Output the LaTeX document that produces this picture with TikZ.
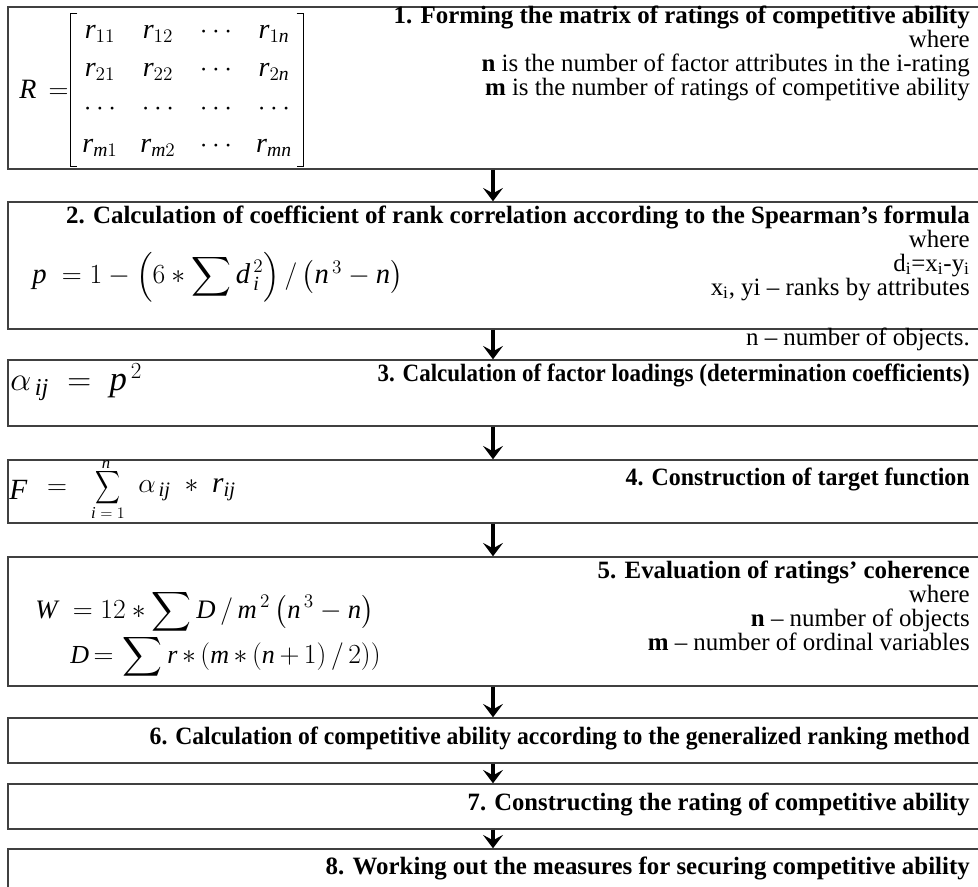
\documentclass[tikz,border=0pt]{standalone}
\usepackage{exscale}
\usepackage{fontspec}
\setmainfont{Liberation Serif}
\usepackage{graphicx}
\usetikzlibrary{arrows.meta,fit,matrix}
\newcommand\mi[1]{\mathit{#1}}
\newcommand\cond[2]{\resizebox{#1}{\height}{#2}}
\newcommand\st{\mathbin{*}}
\begin{document}
\begin{tikzpicture}[x=0.75pt,y=-0.75pt,
  box/.style={draw=black!75, line width=1.1pt, inner sep=0pt},
  txt/.style={anchor=mid east, inner sep=0pt, font=\fontsize{18.7}{20}\selectfont},
  ttl/.style={txt, font=\fontsize{18.7}{20}\selectfont\bfseries},
  frm/.style={anchor=west, inner sep=0pt, font=\fontsize{22}{26}\selectfont},
  lim/.style={inner sep=0pt, font=\fontsize{12.5}{14}\selectfont},
  flow/.style={line width=2.4pt, -{Stealth[length=10pt,width=15pt,inset=4pt]}},
  brk/.style={line width=0.8pt}
  ]
\useasboundingbox (0,0) rectangle (978,887);
\clip (0,0) rectangle (978,887);
\coordinate (ax) at (493,0);
% boxes
\node[box, fit={(8,7) (995,169)}] (b1) {};
\node[box, fit={(8,202) (995,329)}] (b2) {};
\node[box, fit={(8,360) (995,426)}] (b3) {};
\node[box, fit={(8,460) (995,523)}] (b4) {};
\node[box, fit={(8,557) (995,686)}] (b5) {};
\node[box, fit={(8,718) (995,763)}] (b6) {};
\node[box, fit={(8,784) (995,829)}] (b7) {};
\node[box, fit={(8,849) (995,900)}] (b8) {};
% arrows
\draw[flow] (b1.south -| ax) -- (b2.north -| ax);
\draw[flow] (b2.south -| ax) -- (b3.north -| ax);
\draw[flow] (b3.south -| ax) -- (b4.north -| ax);
\draw[flow] (b4.south -| ax) -- (b5.north -| ax);
\draw[flow] (b5.south -| ax) -- (b6.north -| ax);
\draw[flow] (b6.south -| ax) -- (b7.north -| ax);
\draw[flow] (b7.south -| ax) -- (b8.north -| ax);
% box 1
\node[ttl] (t1) at (970,20) {1. Forming the matrix of ratings of competitive ability};
\node[txt] (w1) at (970,44) {where};
\node[txt] (n1) at (970,68) {\textbf{n} is the number of factor attributes in the i-rating};
\node[txt] (m1) at (970,92) {\textbf{m} is the number of ratings of competitive ability};
\matrix (M) at (187,90) [matrix of math nodes, column sep=0pt, row sep=0pt, inner sep=0pt,
  nodes={minimum width=43.5pt, minimum height=27.75pt, inner sep=0pt, font=\fontsize{21}{24}\selectfont}] {
  \mi{r}_{11} & \mi{r}_{12} & \cdots & \mi{r}_{1\mi{n}} \\
  \mi{r}_{21} & \mi{r}_{22} & \cdots & \mi{r}_{2\mi{n}} \\
  \cdots & \cdots & \cdots & \cdots \\
  \mi{r}_{\mi{m}1} & \mi{r}_{\mi{m}2} & \cdots & \mi{r}_{\mi{mn}} \\
};
\draw[brk] ([xshift=5pt]M.north west) -- (M.north west) -- (M.south west) -- ([xshift=5pt]M.south west);
\draw[brk] ([xshift=-5pt]M.north east) -- (M.north east) -- (M.south east) -- ([xshift=-5pt]M.south east);
\node[font=\fontsize{21}{24}\selectfont, inner sep=0pt] (Req) at (44,89) {$\mi{R}\,=$};
% box 2
\node[ttl] (t2) at (970,220) {2. Calculation of coefficient of rank correlation according to the Spearman’s formula};
\node[txt] (w2) at (970,244) {where};
\node[txt] (d2) at (970,268) {d\textsubscript{i}=x\textsubscript{i}-y\textsubscript{i}};
\node[txt] (x2) at (970,292) {x\textsubscript{i}, yi – ranks by attributes};
\node[txt] (o2) at (970,342) {n – number of objects.};
\node[frm, font=\fontsize{21.5}{25}\selectfont] (f2) at (32,277) {$\mi{p}\;=1-\left(6\st\displaystyle\sum \mi{d}_{\,\mi{i}}^{\,2}\right)/\left(\mi{n}^{\,3}-\mi{n}\right)$};
% box 3
\node[ttl] (t3) at (970,378) {\cond{444pt}{3. Calculation of factor loadings (determination coefficients)}};
\node[frm, font=\fontsize{26}{30}\selectfont] (f3) at (10,382) {$\alpha_{\,\mi{ij}}\;=\;\mi{p}^{\,2}$};
% box 4
\node[ttl] (t4) at (970,482) {\cond{258pt}{4. Construction of target function}};
\node[frm] (f4F) at (9,490) {$\mi{F}$};
\node[inner sep=0pt, font=\fontsize{22}{26}\selectfont] (f4eq) at (57,490) {$=$};
\node[inner sep=0pt, font=\fontsize{19}{22}\selectfont] (f4S) at (108,488) {\scalebox{0.75}[1]{$\displaystyle\sum$}};
\node[lim] (f4n) at (106,465) {$\mi{n}$};
\node[lim] (f4i) at (108,513) {$\mi{i}=1$};
\node[frm] (f4a) at (138,490) {$\alpha_{\,\mi{ij}}\;\st\;\mi{r}_{\mi{ij}}$};
% box 5
\node[ttl] (t5) at (970,575) {5. Evaluation of ratings’ coherence};
\node[txt] (w5) at (970,599) {where};
\node[txt] (n5) at (970,623) {\textbf{n} – number of objects};
\node[txt] (m5) at (970,647) {\textbf{m} – number of ordinal variables};
\node[frm, font=\fontsize{20}{24}\selectfont] (f5a) at (35,612) {$\mi{W}\;=12\st\displaystyle\sum \mi{D}\,/\,\mi{m}^{\,2}\left(\mi{n}^{\,3}-\mi{n}\right)$};
\node[frm, font=\fontsize{19.5}{24}\selectfont] (f5b) at (70,657) {$\mi{D}\,{=}\,\displaystyle\sum \mi{r}\,{*}\left(\mi{m}\,{*}\left(\mi{n}\,{+}\,1\right)/\,2)\right)$};
% boxes 6-8
\node[ttl] (t6) at (970,741) {\cond{615pt}{6. Calculation of competitive ability according to the generalized ranking method}};
\node[ttl] (t7) at (970,807) {\cond{376.5pt}{7. Constructing the rating of competitive ability}};
\node[ttl] (t8) at (970,871) {\cond{483pt}{8. Working out the measures for securing competitive ability}};
\end{tikzpicture}
\end{document}
